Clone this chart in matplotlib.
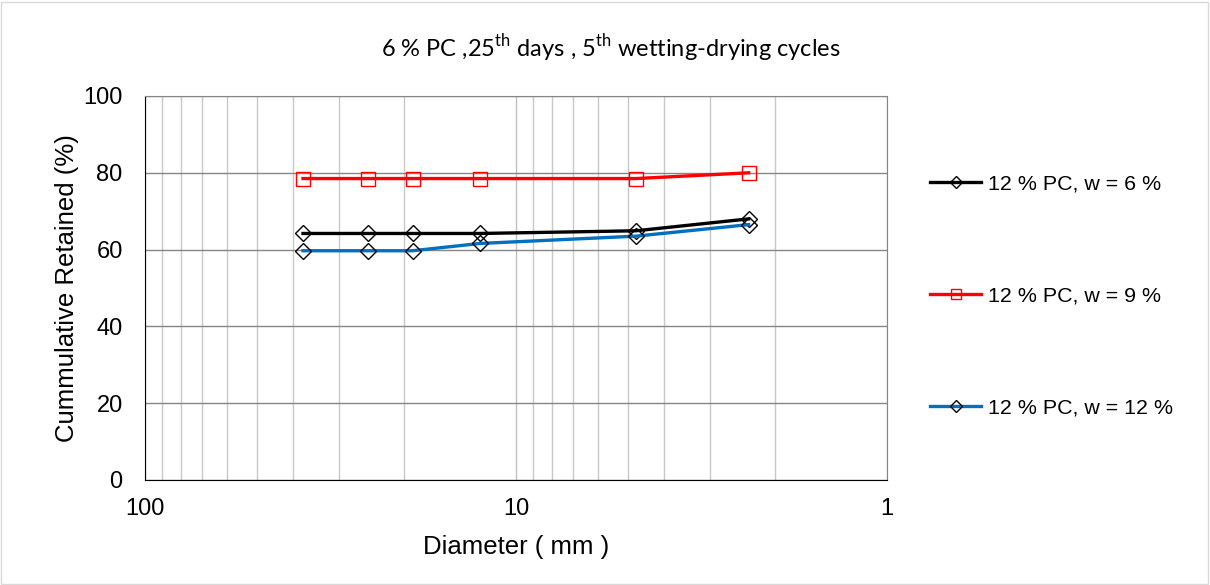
import matplotlib
matplotlib.use("Agg")
import matplotlib.pyplot as plt
from matplotlib.patches import Rectangle
from matplotlib.ticker import FixedLocator, NullFormatter, LogLocator

plt.rcParams['font.family'] = ['Liberation Sans', 'DejaVu Sans']
plt.rcParams['mathtext.fontset'] = 'custom'
plt.rcParams['mathtext.rm'] = 'Lato'

# Sieve sizes (mm) and cumulative retained (%)
diameter = [37.5, 25, 19, 12.5, 4.75, 2.36]
w6 = [64.2, 64.2, 64.2, 64.2, 64.9, 68.0]
w9 = [78.5, 78.5, 78.5, 78.5, 78.5, 80.0]
w12 = [59.7, 59.7, 59.7, 61.6, 63.5, 66.5]
labels = ["12 % PC, w = 6 %", "12 % PC, w = 9 %", "12 % PC, w = 12 %"]
title = r"6 % PC ,25$^{\mathrm{th}}$ days , 5$^{\mathrm{th}}$ wetting-drying cycles"

fig = plt.figure(figsize=(12.1, 5.85), dpi=100)
fig.patches.append(Rectangle((0.001, 0.002), 0.997, 0.995, transform=fig.transFigure,
                             fill=False, edgecolor='#d9d9d9', linewidth=1.0))
ax = fig.add_axes([0.1198, 0.1795, 0.6133, 0.6564])

ax.set_xscale('log')
ax.set_xlim(100, 1)
ax.set_ylim(0, 100)

ax.xaxis.set_major_locator(FixedLocator([100, 10, 1]))
ax.xaxis.set_minor_locator(LogLocator(base=10, subs=range(2, 10)))
ax.xaxis.set_minor_formatter(NullFormatter())
ax.set_xticks([100, 10, 1])
ax.set_xticklabels(["100", "10", "1"])
ax.set_yticks([0, 20, 40, 60, 80, 100])

ax.grid(which='major', axis='y', color='#868686', linewidth=1.0)
ax.grid(which='major', axis='x', color='#c0c0c0', linewidth=1.0)
ax.grid(which='minor', axis='x', color='#c8c8c8', linewidth=1.0)
ax.set_axisbelow(True)

ax.tick_params(axis='both', which='major', labelsize=17, length=0)
ax.tick_params(axis='y', which='major', pad=16)
ax.tick_params(axis='x', which='major', pad=13)
ax.tick_params(axis='x', which='minor', length=0)
for side in ('top', 'right'):
    ax.spines[side].set_color('#868686')
for side in ('left', 'bottom'):
    ax.spines[side].set_color('#000000')

ax.plot(diameter, w6, color='#000000', linewidth=2.4, marker='D', markersize=8.6,
        markerfacecolor='none', markeredgecolor='#000000', markeredgewidth=1.0, label=labels[0])
ax.plot(diameter, w9, color='#ff0000', linewidth=2.4, marker='s', markersize=10,
        markerfacecolor='none', markeredgecolor='#ff0000', markeredgewidth=1.0, label=labels[1])
ax.plot(diameter, w12, color='#0070c0', linewidth=2.4, marker='D', markersize=8.6,
        markerfacecolor='none', markeredgecolor='#000000', markeredgewidth=1.0, label=labels[2])

ax.set_xlabel("Diameter ( mm )", fontsize=18.5, labelpad=11)
ax.set_ylabel("Cummulative Retained (%)", fontsize=18.5, labelpad=3)

fig.text(0.505, 0.918, title, ha='center', va='center', fontsize=17, family='Lato')

leg = ax.legend(loc='upper left', bbox_to_anchor=(0.7615, 0.7157), bbox_transform=fig.transFigure,
                frameon=False, fontsize=15.4, handlelength=2.4, handletextpad=0.3,
                labelspacing=4.34, markerscale=0.7, borderaxespad=0)

fig.savefig("out.png", dpi=100)
